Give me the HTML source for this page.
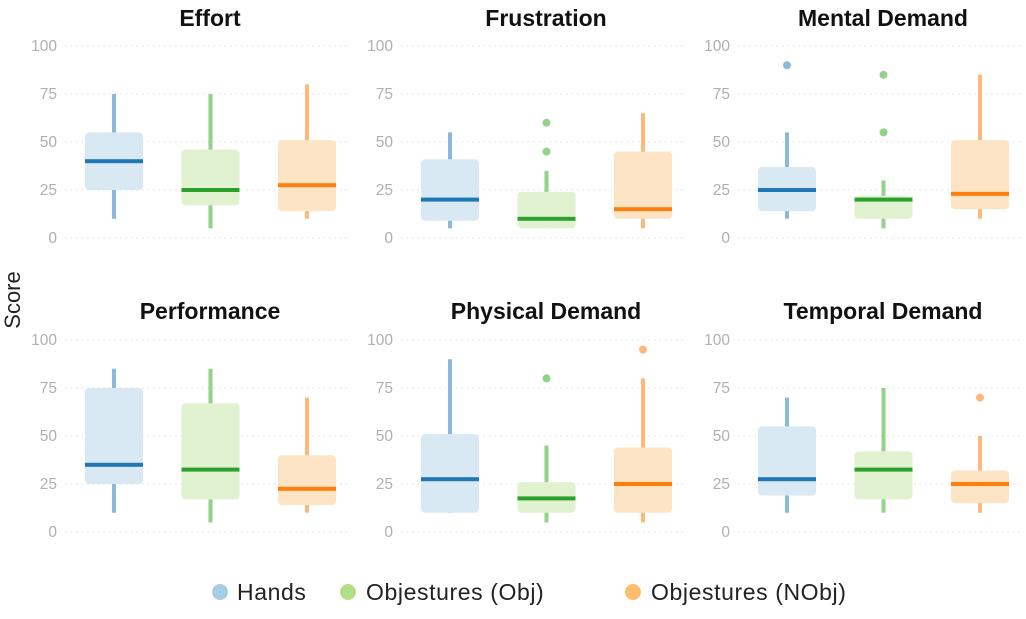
<!DOCTYPE html>
<html><head><meta charset="utf-8"><style>
body{margin:0;background:#fff}
svg text{font-family:"Liberation Sans",sans-serif}
.t{font-size:23px;font-weight:bold;fill:#111;text-anchor:middle}
.k{font-size:15.5px;fill:#b0b0b0;text-anchor:end}
.l{font-size:23px;fill:#222;letter-spacing:0.6px}
</style></head><body>
<svg id="s" width="1026" height="614" xmlns="http://www.w3.org/2000/svg">
<g id="grid"></g><g id="boxes"></g>
<text class="t" x="210" y="26">Effort</text>
<text class="t" x="546" y="26">Frustration</text>
<text class="t" x="883" y="26">Mental Demand</text>
<text class="t" x="210" y="319">Performance</text>
<text class="t" x="546" y="319">Physical Demand</text>
<text class="t" x="883" y="319">Temporal Demand</text>
<text x="20" y="300" transform="rotate(-90 20 300)" font-size="22" fill="#222" text-anchor="middle">Score</text>
<g class="k">
<text x="57" y="51">100</text><text x="57" y="99">75</text><text x="57" y="147">50</text><text x="57" y="195">25</text><text x="57" y="243">0</text>
<text x="393" y="51">100</text><text x="393" y="99">75</text><text x="393" y="147">50</text><text x="393" y="195">25</text><text x="393" y="243">0</text>
<text x="730" y="51">100</text><text x="730" y="99">75</text><text x="730" y="147">50</text><text x="730" y="195">25</text><text x="730" y="243">0</text>
<text x="57" y="345">100</text><text x="57" y="393">75</text><text x="57" y="441">50</text><text x="57" y="489">25</text><text x="57" y="537">0</text>
<text x="393" y="345">100</text><text x="393" y="393">75</text><text x="393" y="441">50</text><text x="393" y="489">25</text><text x="393" y="537">0</text>
<text x="730" y="345">100</text><text x="730" y="393">75</text><text x="730" y="441">50</text><text x="730" y="489">25</text><text x="730" y="537">0</text>
</g>
<circle cx="220" cy="592" r="8" fill="#a6cee3"/><text class="l" x="237" y="600">Hands</text>
<circle cx="348" cy="592" r="8" fill="#b2df8a"/><text class="l" x="366" y="600">Objestures (Obj)</text>
<circle cx="633" cy="592" r="8" fill="#fdbf6f"/><text class="l" x="651" y="600">Objestures (NObj)</text>
</svg>
<script>
var NS="http://www.w3.org/2000/svg";
function el(p,t,a){var e=document.createElementNS(NS,t);for(var k in a)e.setAttribute(k,a[k]);document.getElementById(p).appendChild(e);}
var offs=[0,336,673],bases=[238,532];
var fill=["#d9e9f3","#e0f2d0","#fde4c5"],med=["#1f77b4","#2ca02c","#ff7f0e"],wh=["#8ab9dc","#94d18a","#ffb87a"];
var D=[
[[25,40,55,10,75,[]],[17,25,46,5,75,[]],[14,27.5,51,10,80,[]]],
[[9,20,41,5,55,[]],[5,10,24,5,35,[45,60]],[10,15,45,5,65,[]]],
[[14,25,37,10,55,[90]],[10,20,22,5,30,[55,85]],[15,23,51,10,85,[]]],
[[25,35,75,10,85,[]],[17,32.5,67,5,85,[]],[14,22.5,40,10,70,[]]],
[[10,27.5,51,10,90,[]],[10,17.5,26,5,45,[80]],[10,25,44,5,80,[95]]],
[[19,27.5,55,10,70,[]],[17,32.5,42,10,75,[]],[15,25,32,10,50,[70]]]];
for(var p=0;p<6;p++){var off=offs[p%3],b=bases[Math.floor(p/3)];
 function y(v){return b-v*1.92;}
 for(var g=0;g<=100;g+=25)el("grid","line",{x1:65+off,x2:350+off,y1:y(g),y2:y(g),stroke:"#ddd","stroke-width":1,"stroke-dasharray":"1.5 4"});
 for(var i=0;i<3;i++){var d=D[p][i],cx=114+off+i*96.5;
  el("boxes","line",{x1:cx,x2:cx,y1:y(d[3]),y2:y(d[4]),stroke:wh[i],"stroke-width":4});
  el("boxes","rect",{x:cx-29,y:y(d[2]),width:58,height:y(d[0])-y(d[2]),rx:4,fill:fill[i]});
  el("boxes","rect",{x:cx-29,y:y(d[1])-2,width:58,height:4,fill:med[i]});
  d[5].forEach(function(o){el("boxes","circle",{cx:cx,cy:y(o),r:4,fill:wh[i]});});
 }}
</script>
</body></html>
